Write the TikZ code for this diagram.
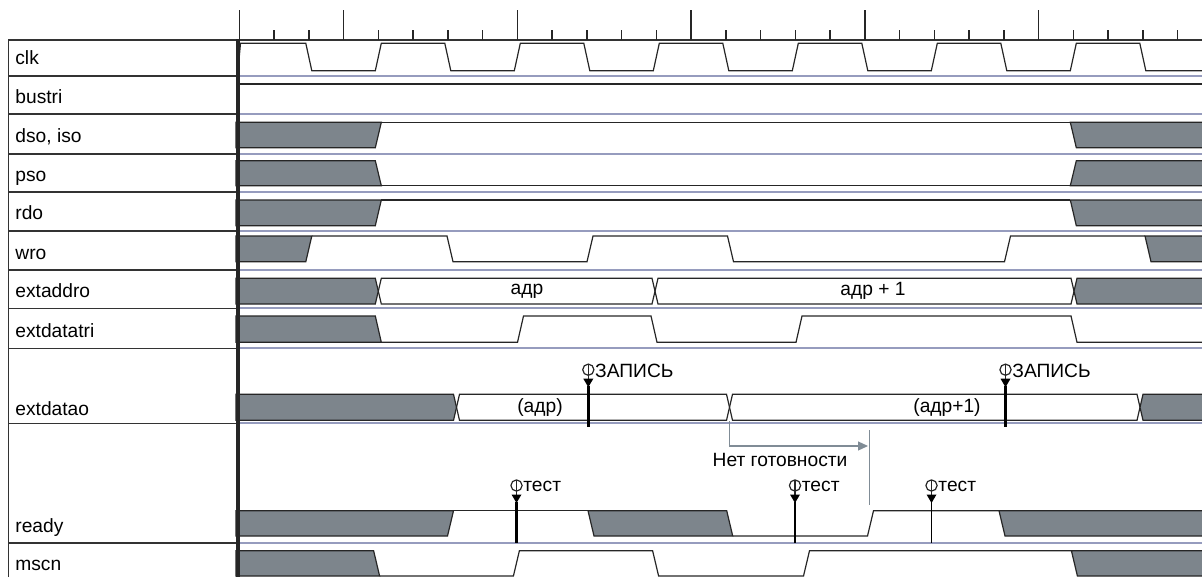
\documentclass[tikz,border=0pt]{standalone}
\usepackage{fontspec}
\setmainfont{Liberation Sans}
\usetikzlibrary{arrows.meta}
\definecolor{undef}{RGB}{125,133,140}
\definecolor{rowline}{RGB}{150,156,190}
\definecolor{note}{RGB}{128,140,150}
\def\rows{76,114.3,154,192.3,230.7,270,308.3,348.3,423.3,542.7}
% probe: name, x, circle y, foot y, line width, label
\newcommand{\probemark}[6]{%
  \draw[sig] (#2,#3) circle (2.8pt);
  \draw[sig] (#2,{#3-5.5}) -- (#2,{#3+10});
  \fill (#2-5,{#3+9}) -- (#2+5,{#3+9}) -- (#2,{#3+17.5}) -- cycle;
  \draw[line width=#5] (#2,{#3+16}) -- (#2,#4);
  \node[lbl, anchor=west] (#1) at (#2+6.5,{#3+1}) {#6};
}

\begin{document}
\begin{tikzpicture}[x=0.5pt, y=-0.5pt,
    declare function={tx(\k)=239.3+34.75*\k;},
    lbl/.style={font=\fontsize{9.6}{11}\selectfont, inner sep=0pt},
    sig/.style={line width=0.6pt, black!85},
    xblk/.style={fill=undef, draw=black!85, line width=0.6pt},
    frame/.style={line width=0.8pt, black!80},
    tick/.style={line width=0.7pt, black!85}]
\useasboundingbox (0,0) rectangle (1202,577);
\clip (0,0) rectangle (1202,577);

% ruler
\draw[frame] (8.3,577) -- (8.3,40) -- (1210,40);
\foreach \k in {0,...,27} \draw[tick] ({tx(\k)},40) -- ({tx(\k)},30);
\foreach \k in {0,3,8,13,18,23} \draw[tick] ({tx(\k)},40) -- ({tx(\k)},10);

% row lines
\foreach \y in \rows {
  \draw[frame] (8.3,\y) -- (237,\y);
  \draw[rowline, line width=1pt] (240,\y) -- (1210,\y);
}

% names
\node[lbl, anchor=base west] (lclk) at (15,65) {clk};
\node[lbl, anchor=base west] (lbustri) at (15,103.5) {bustri};
\node[lbl, anchor=base west] (ldso) at (15,143) {dso, iso};
\node[lbl, anchor=base west] (lpso) at (15,181.5) {pso};
\node[lbl, anchor=base west] (lrdo) at (15,220) {rdo};
\node[lbl, anchor=base west] (lwro) at (15,259) {wro};
\node[lbl, anchor=base west] (lextaddro) at (15,297.5) {extaddro};
\node[lbl, anchor=base west] (lextdatatri) at (15,337) {extdatatri};
\node[lbl, anchor=base west] (lextdatao) at (15,415) {extdatao};
\node[lbl, anchor=base west] (lready) at (15,532) {ready};
\node[lbl, anchor=base west] (lmscn) at (15,570) {mscn};

% clk
\draw[sig] (238,70.7) -- (240.5,43.3)
  \foreach \k in {0,...,5} { -- ({tx(4*\k+2)-3},43.3) -- ({tx(4*\k+2)+3},70.7)
    -- ({tx(4*\k+4)-3},70.7) -- ({tx(4*\k+4)+3},43.3) }
  -- ({tx(26)-3},43.3) -- ({tx(26)+3},70.7) -- (1210,70.7);

% bustri
\draw[sig] (238,84) -- (1210,84);

% dso, iso
\filldraw[xblk] (236,122.3) -- (381.3,122.3) -- (375.3,147.7) -- (236,147.7) -- cycle;
\draw[sig] (381.3,122.3) -- (1070.3,122.3);
\filldraw[xblk] (1070.3,122.3) -- (1210,122.3) -- (1210,147.7) -- (1076.3,147.7) -- cycle;

% pso
\filldraw[xblk] (236,160.7) -- (375.3,160.7) -- (381.3,185.7) -- (236,185.7) -- cycle;
\draw[sig] (381.3,185.7) -- (1070.3,185.7);
\filldraw[xblk] (1070.3,185.7) -- (1076.3,160.7) -- (1210,160.7) -- (1210,185.7) -- cycle;

% rdo
\filldraw[xblk] (236,200) -- (381.3,200) -- (375.3,225.7) -- (236,225.7) -- cycle;
\draw[sig] (381.3,200) -- (1070.3,200);
\filldraw[xblk] (1070.3,200) -- (1210,200) -- (1210,225.7) -- (1076.3,225.7) -- cycle;

% wro
\filldraw[xblk] (236,236) -- (311.8,236) -- (305.8,261.7) -- (236,261.7) -- cycle;
\draw[sig] (311.8,236) -- (447,236) -- (453,261.7) -- (587,261.7) -- (593,236) -- (727.5,236)
  -- (733.5,261.7) -- (1004.5,261.7) -- (1010.5,236) -- (1145,236);
\filldraw[xblk] (1145,236) -- (1210,236) -- (1210,261.7) -- (1151,261.7) -- cycle;

% extaddro
\filldraw[xblk] (236,278.3) -- (375.3,278.3) -- (378.3,291.2) -- (375.3,304) -- (236,304) -- cycle;
\draw[sig] (378.3,291.2) -- (381.3,278.3) -- (652,278.3) -- (655,291.2) -- (652,304) -- (381.3,304) -- cycle;
\draw[sig] (655,291.2) -- (658,278.3) -- (1071,278.3) -- (1074,291.2) -- (1071,304) -- (658,304) -- cycle;
\filldraw[xblk] (1074,291.2) -- (1077,278.3) -- (1210,278.3) -- (1210,304) -- (1077,304) -- cycle;
\node[lbl] (addr) at (527,291.2) {адр};
\node[lbl] (addrnext) at (873,291.2) {адр + 1};

% extdatatri
\filldraw[xblk] (236,316) -- (375.3,316) -- (381.3,342.3) -- (236,342.3) -- cycle;
\draw[sig] (381.3,342.3) -- (517.5,342.3) -- (523.5,316) -- (651,316) -- (657,342.3) -- (796,342.3)
  -- (802,316) -- (1071,316) -- (1077,342.3) -- (1210,342.3);

% extdatao
\filldraw[xblk] (236,394.3) -- (453.5,394.3) -- (456.5,407.3) -- (453.5,420.3) -- (236,420.3) -- cycle;
\draw[sig] (456.5,407.3) -- (459.5,394.3) -- (726.5,394.3) -- (729.5,407.3) -- (726.5,420.3) -- (459.5,420.3) -- cycle;
\draw[sig] (729.5,407.3) -- (732.5,394.3) -- (1137,394.3) -- (1140,407.3) -- (1137,420.3) -- (732.5,420.3) -- cycle;
\filldraw[xblk] (1140,407.3) -- (1143,394.3) -- (1210,394.3) -- (1210,420.3) -- (1143,420.3) -- cycle;
\node[lbl] (data) at (540,407.3) {(адр)};
\node[lbl] (datanext) at (947,407.3) {(адр+1)};

% ready
\filldraw[xblk] (236,510.7) -- (453.5,510.7) -- (447.5,536) -- (236,536) -- cycle;
\draw[sig] (453.5,510.7) -- (588,510.7);
\filldraw[xblk] (588,510.7) -- (726.7,510.7) -- (732.7,536) -- (594,536) -- cycle;
\draw[sig] (732.7,536) -- (867.5,536) -- (873.5,510.7) -- (999,510.7);
\filldraw[xblk] (999,510.7) -- (1210,510.7) -- (1210,536) -- (1005,536) -- cycle;

% mscn
\filldraw[xblk] (236,550.7) -- (373.6,550.7) -- (379.6,576) -- (236,576) -- cycle;
\draw[sig] (379.6,576) -- (513.4,576) -- (519.4,550.7) -- (652.6,550.7) -- (658.6,576) -- (803.5,576)
  -- (809.5,550.7) -- (1071.4,550.7);
\filldraw[xblk] (1071.4,550.7) -- (1210,550.7) -- (1210,576) -- (1077.4,576) -- cycle;

% border of the wave area
\draw[line width=2pt, black!85] (238,39) -- (238,577);

% Нет готовности
\coordinate (nrstart) at (729.3,421);
\coordinate (nrend) at (868,446);
\coordinate (nrtop) at (869.3,430);
\coordinate (nrbot) at (869.3,505);
\draw[note, line width=0.6pt, -{Triangle[length=5pt,width=4.5pt]}] (nrstart) |- (nrend);
\draw[note, line width=0.6pt] (nrtop) -- (nrbot);
\node[lbl] (nordy) at (780,460) {Нет готовности};

% markers
\probemark{wr1}{588.3}{369.7}{426.7}{1.5pt}{ЗАПИСЬ}
\probemark{wr2}{1005.5}{369.7}{426.7}{1.5pt}{ЗАПИСЬ}
\probemark{ts1}{516.5}{485.5}{542.7}{1.5pt}{тест}
\probemark{ts2}{795}{485.5}{542.7}{0.6pt}{тест}
\probemark{ts3}{931.5}{485.5}{542.7}{0.6pt}{тест}
\end{tikzpicture}
\end{document}
